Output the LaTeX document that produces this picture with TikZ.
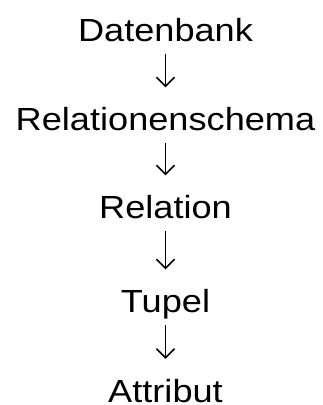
\documentclass[tikz,border=0pt]{standalone}
\usepackage{fontspec}
\setmainfont{Liberation Sans}
\newfontfamily\lblfont[FakeStretch=1.13]{Liberation Sans}
\usetikzlibrary{arrows.meta}
\tikzset{
  lbl/.style={inner sep=0pt, anchor=base, text height=23pt, text depth=0pt,
    font=\lblfont\fontsize{32}{38}\selectfont},
  conn/.style={line width=1.5pt, shorten <=12pt, shorten >=20pt,
    -{Straight Barb[length=9pt,width=18pt,line width=1.5pt]}}
}
\begin{document}
\begin{tikzpicture}[x=1pt,y=-1pt]
\useasboundingbox (0,0) rectangle (323,405);
\node[lbl] (db)  at (165.5,41.7)  {Datenbank};
\node[lbl] (rs)  at (165.5,130.5) {Relationenschema};
\node[lbl] (rel) at (165.5,218.5) {Relation};
\node[lbl] (tup) at (165.5,312.5) {Tupel};
\node[lbl] (att) at (165.5,402)   {Attribut};
\draw[conn] (db.south) -- (rs.north);
\draw[conn] (rs.south) -- (rel.north);
\draw[conn] (rel.south) -- (tup.north);
\draw[conn] (tup.south) -- (att.north);
\end{tikzpicture}
\end{document}
